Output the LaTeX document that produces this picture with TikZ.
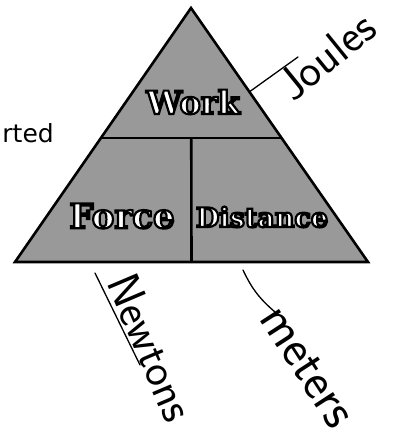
\documentclass[tikz,border=0pt]{standalone}
\usepackage{fontspec}
\usepackage{tikz}
\usetikzlibrary{positioning, calc}
\newfontfamily\labelfont{DejaVu Serif}
\newfontfamily\notefont{DejaVu Sans}
\definecolor{pyramid}{HTML}{999999}
% white letters with a black rim (pdf text render mode 2)
\newcommand{\rimtext}[1]{\special{pdf:literal direct 2 Tr 2.2 w 0 G}#1\special{pdf:literal direct 0 Tr}}

\begin{document}
\begin{tikzpicture}[x=1pt, y=1pt,
        every node/.style={inner sep=0pt},
        part/.style={text=white, font=\labelfont\bfseries\fontsize{32}{36}\selectfont},
        hand/.style={font=\sffamily\fontsize{46}{50}\selectfont},
        outline/.style={line width=2.6pt, line join=miter},
        lead/.style={line width=1.3pt, line cap=round},
      ]
      \useasboundingbox (0,0) rectangle (403,-440);

      % the triangle
      \coordinate (apex) at (191,-8);
      \coordinate (bl) at (15,-262);
      \coordinate (br) at (368,-262);
      \coordinate (ml) at ($(apex)!0.512!(bl)$);
      \coordinate (mr) at ($(apex)!0.512!(br)$);
      \coordinate (mid) at ($(ml)!0.5!(mr)$);
      \coordinate (bm) at ($(bl)!0.5!(br)$);
      \fill[pyramid] (apex) -- (bl) -- (br) -- cycle;
      \draw[outline] (apex) -- (bl) -- (br) -- cycle;
      \draw[outline] (ml) -- (mr);
      \draw[outline] (mid) -- (bm);

      \node[part] (work) at (193,-102) {\rimtext{Work}};
      \node[part, font=\labelfont\bfseries\fontsize{34}{38}\selectfont] (force) at (122,-216) {\rimtext{Force}};
      \node[part, font=\labelfont\bfseries\fontsize{27}{30}\selectfont] (distance) at (262,-217) {\rimtext{Distance}};

      \node[font=\notefont\fontsize{25}{30}\selectfont, anchor=base east] (cut) at (54,-142) {rted};

      % units written by hand
      \node[hand, rotate=39, anchor=base west] (joules) at (293,-103) {Joules};
      \node[hand, rotate=-67, anchor=base west] (newtons) at (106,-282) {Newtons};
      \node[hand, rotate=-57, anchor=base west, font=\sffamily\fontsize{52}{56}\selectfont] (meters) at (258,-318) {meters};

      \coordinate (jl) at ($(apex)!0.33!(br)$);
      \coordinate (jr) at (298,-57);
      \coordinate (nt) at (95,-273);
      \coordinate (nb) at (140,-365);
      \coordinate (mt) at (243,-270);
      \coordinate (mb) at (275,-312);
      \draw[lead] (jl) -- (jr);
      \draw[lead] (nt) -- (nb);
      \draw[lead] (mt) to[bend right=12] (mb);
    \end{tikzpicture}
\end{document}
